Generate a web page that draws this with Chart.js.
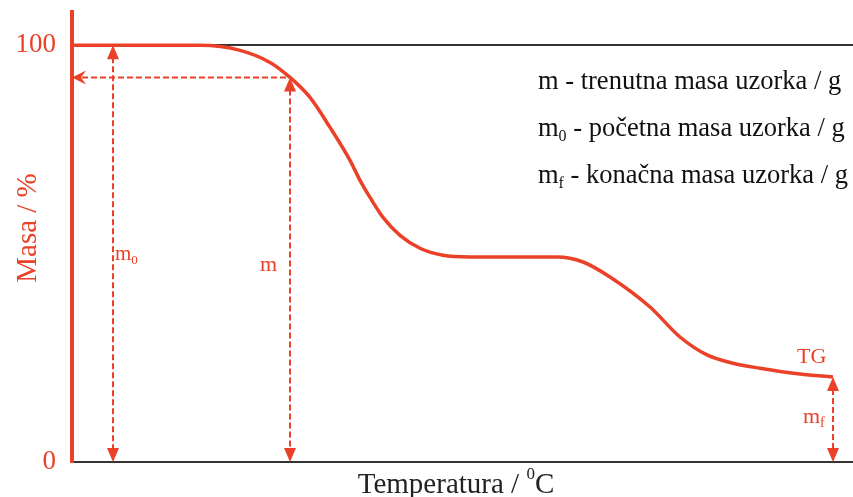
<!DOCTYPE html>
<html>
<head>
<meta charset="utf-8">
<script src="https://cdn.jsdelivr.net/npm/chart.js@4"></script>
<style>
  html, body { margin: 0; padding: 0; background: #fff; }
  #wrap { width: 853px; height: 497px; }
</style>
</head>
<body>
<div id="wrap"><canvas id="tg-chart"></canvas></div>
<script>
// TG curve (temperature in arbitrary units, mass in %)
const temps = [0, 128, 168, 198, 218, 238, 258, 278, 288, 298, 311, 328, 348, 371, 398, 485, 511, 538, 578, 608, 635, 661, 688, 728, 761];
const mass = [100, 100, 98.8, 95.9, 92.3, 87.5, 80.3, 72.4, 67.6, 63.5, 58.7, 54.4, 51.3, 49.6, 49.2, 49.2, 48.0, 44.4, 37.2, 30.0, 25.7, 23.7, 22.5, 21.1, 20.4];
const yTicks = [0, 100];

// marked points: m0 at start, m at a chosen point, mf at the end
const m0Temp = 41;
const mTemp = 218, mMass = 92.3;
const mfTemp = 761, mfMass = 20.4;

const legendLines = [
  ['m', '', ' - trenutna masa uzorka / g'],
  ['m', '0', ' - početna masa uzorka / g'],
  ['m', 'f', ' - konačna masa uzorka / g']
];

const RED = '#ea4128';
const SERIF = '"Liberation Serif", "DejaVu Serif", serif';

function arrowHead(ctx, x, y, dir) {
  ctx.beginPath();
  if (dir === 'up') {
    ctx.moveTo(x, y); ctx.lineTo(x - 6, y + 14); ctx.lineTo(x + 6, y + 14);
  } else if (dir === 'down') {
    ctx.moveTo(x, y); ctx.lineTo(x - 6, y - 14); ctx.lineTo(x + 6, y - 14);
  } else {
    ctx.moveTo(x, y); ctx.lineTo(x + 14, y - 7); ctx.lineTo(x + 9, y); ctx.lineTo(x + 14, y + 7);
  }
  ctx.closePath();
  ctx.fill();
}

// draws main text with a subscript, returns the x after it
function subText(ctx, x, y, main, sub, size, color) {
  ctx.fillStyle = color;
  ctx.font = size + 'px ' + SERIF;
  ctx.fillText(main, x, y);
  let w = ctx.measureText(main).width;
  if (sub) {
    ctx.font = Math.round(size * 0.62) + 'px ' + SERIF;
    ctx.fillText(sub, x + w, y + size * 0.18);
    w += ctx.measureText(sub).width;
  }
  return x + w;
}

const annotations = {
  id: 'annotations',
  afterDatasetsDraw(chart) {
    const ctx = chart.ctx;
    const xs = chart.scales.x, ys = chart.scales.y;
    ctx.save();
    ctx.strokeStyle = RED;
    ctx.fillStyle = RED;
    ctx.lineWidth = 2;
    ctx.setLineDash([6, 3]);

    const x0 = xs.getPixelForValue(m0Temp);
    const xm = xs.getPixelForValue(mTemp);
    const xf = xs.getPixelForValue(mfTemp);
    const yTop = ys.getPixelForValue(100);
    const yM = ys.getPixelForValue(mMass);
    const yF = ys.getPixelForValue(mfMass);
    const yBot = ys.getPixelForValue(0);
    const xAxis = xs.getPixelForValue(0);

    ctx.beginPath();
    ctx.moveTo(x0, yTop + 12); ctx.lineTo(x0, yBot - 12);
    ctx.moveTo(xm, yM + 12); ctx.lineTo(xm, yBot - 12);
    ctx.moveTo(xf, yF + 12); ctx.lineTo(xf, yBot - 12);
    ctx.moveTo(xm - 4, yM); ctx.lineTo(xAxis + 10, yM);
    ctx.stroke();
    ctx.setLineDash([]);

    arrowHead(ctx, x0, yTop, 'up'); arrowHead(ctx, x0, yBot, 'down');
    arrowHead(ctx, xm, yM, 'up'); arrowHead(ctx, xm, yBot, 'down');
    arrowHead(ctx, xf, yF, 'up'); arrowHead(ctx, xf, yBot, 'down');
    arrowHead(ctx, xAxis, yM, 'left');

    // labels next to arrows
    ctx.textBaseline = 'alphabetic';
    ctx.textAlign = 'left';
    subText(ctx, x0 + 2, 260, 'm', '0', 21, RED);
    ctx.font = '22px ' + SERIF;
    ctx.fillText('m', xm - 30, 271);
    ctx.fillText('TG', xf - 36, 363);
    subText(ctx, xf - 30, 423, 'm', 'f', 22, RED);

    // explanation text
    legendLines.forEach((l, i) => {
      const y = 89 + i * 47;
      const x = subText(ctx, 538, y, l[0], l[1], 26.5, '#111');
      ctx.font = '26.5px ' + SERIF;
      ctx.fillStyle = '#111';
      ctx.fillText(l[2], x, y);
    });

    // axis titles
    ctx.save();
    ctx.translate(36, 228);
    ctx.rotate(-Math.PI / 2);
    ctx.textAlign = 'center';
    ctx.fillStyle = RED;
    ctx.font = '29px ' + SERIF;
    ctx.fillText('Masa / %', 0, 0);
    ctx.restore();

    ctx.fillStyle = '#222';
    ctx.font = '29px ' + SERIF;
    const t1 = 'Temperatura / ';
    const w1 = ctx.measureText(t1).width;
    ctx.font = '17px ' + SERIF;
    const w2 = ctx.measureText('0').width;
    ctx.font = '29px ' + SERIF;
    const w3 = ctx.measureText('C').width;
    const sx = 456 - (w1 + w2 + w3) / 2;
    ctx.fillText(t1, sx, 493);
    ctx.font = '17px ' + SERIF;
    ctx.fillText('0', sx + w1, 479);
    ctx.font = '29px ' + SERIF;
    ctx.fillText('C', sx + w1 + w2, 493);
    ctx.restore();
  }
};

new Chart(document.getElementById('tg-chart'), {
  type: 'line',
  data: {
    datasets: [{
      label: 'TG',
      data: temps.map((t, i) => ({ x: t, y: mass[i] })),
      borderColor: RED,
      borderWidth: 3.5,
      pointRadius: 0,
      cubicInterpolationMode: 'monotone',
      fill: false
    }]
  },
  options: {
    responsive: true,
    maintainAspectRatio: false,
    animation: false,
    layout: { padding: { top: 12, left: 0, right: 0, bottom: 0 } },
    plugins: { legend: { display: false }, tooltip: { enabled: false } },
    scales: {
      x: {
        type: 'linear',
        min: 0,
        max: 781,
        grid: { display: false, drawTicks: false },
        border: { color: '#333', width: 2 },
        ticks: { display: false },
        afterFit(axis) { axis.height = 35; axis.paddingLeft = 0; axis.paddingRight = 0; }
      },
      y: {
        min: 0,
        max: 108,
        afterBuildTicks(axis) { axis.ticks = yTicks.map(v => ({ value: v })); },
        grid: {
          drawTicks: false,
          lineWidth: 2,
          color: ctx => (ctx.tick && ctx.tick.value === 100 ? '#333' : 'rgba(0,0,0,0)')
        },
        border: { color: RED, width: 4 },
        ticks: {
          color: RED,
          padding: 16,
          font: { family: SERIF, size: 27 }
        },
        afterFit(axis) { axis.width = 72; axis.paddingTop = 0; axis.paddingBottom = 0; }
      }
    }
  },
  plugins: [annotations]
});
</script>
</body>
</html>
